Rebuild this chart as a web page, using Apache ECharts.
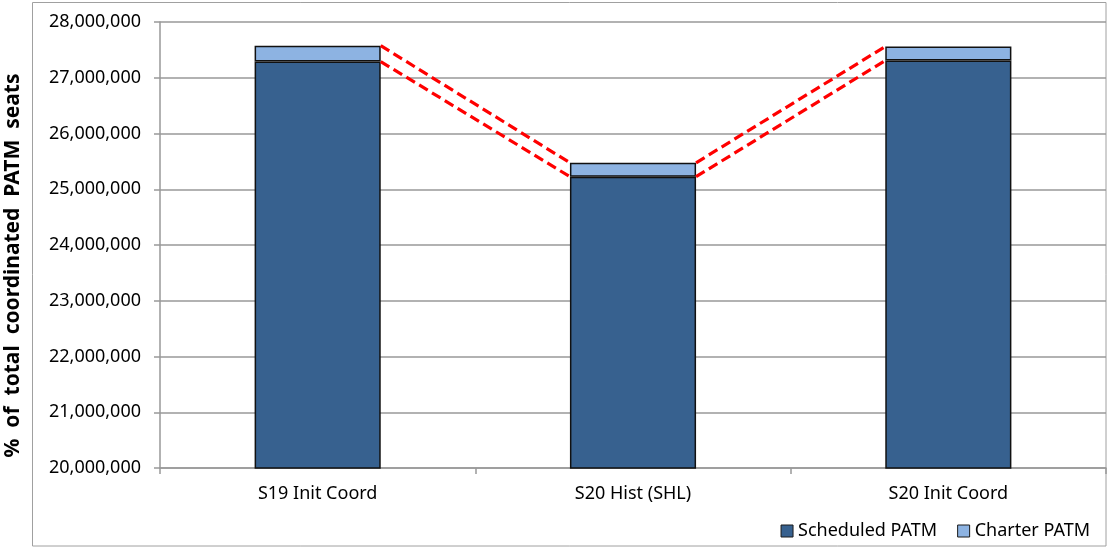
<!DOCTYPE html>
<html>
<head>
<meta charset="utf-8">
<script src="https://cdn.jsdelivr.net/npm/echarts@6/dist/echarts.min.js"></script>
<style>
html,body{margin:0;padding:0;background:#fff;}
#chart{width:1107px;height:547px;}
</style>
</head>
<body>
<div id="chart"></div>
<script>
var categories = ['S19 Init Coord', 'S20 Hist (SHL)', 'S20 Init Coord'];
var scheduled = [27290000, 25225000, 27310000];
var charter = [285000, 250000, 250000];
var yTicks = { min: 20000000, max: 28000000, interval: 1000000 };
var seriesNames = ['Scheduled PATM', 'Charter PATM'];
var axisTitle = '%  of  total  coordinated  PATM  seats';

var FONT = 'Noto Sans';
var totals = scheduled.map(function (v, i) { return v + charter[i]; });
var halfBar = 0.2;

var connectors = [];
for (var i = 0; i < categories.length - 1; i++) {
  [scheduled, totals].forEach(function (arr) {
    connectors.push({
      type: 'line',
      xAxisIndex: 1,
      yAxisIndex: 0,
      symbol: 'none',
      silent: true,
      z: 5,
      lineStyle: { color: '#ff0000', width: 3.2, type: [10, 5] },
      data: [[i + halfBar, arr[i]], [i + 1 - halfBar, arr[i + 1]]]
    });
  });
}

var chart = echarts.init(document.getElementById('chart'));
chart.setOption({
  animation: false,
  backgroundColor: '#ffffff',
  graphic: [{
    type: 'rect',
    shape: { x: 32.5, y: 2.5, width: 1073.5, height: 543.5 },
    style: { fill: 'none', stroke: '#a0a0a0', lineWidth: 1 },
    silent: true,
    z: -1
  }],
  grid: { left: 160, right: 1, top: 22, bottom: 79, containLabel: false, outerBoundsMode: 'none' },
  legend: {
    data: seriesNames,
    right: 12,
    top: 517,
    itemWidth: 12,
    itemHeight: 12,
    itemGap: 20,
    icon: 'rect',
    textStyle: { fontFamily: FONT, fontSize: 18, color: '#000' },
    itemStyle: { borderColor: '#1a1a1a', borderWidth: 1 }
  },
  xAxis: [{
    type: 'category',
    data: categories,
    axisLine: { lineStyle: { color: '#999999', width: 1.5 } },
    axisTick: { show: true, length: 6, lineStyle: { color: '#999999', width: 1.5 } },
    axisLabel: { fontFamily: FONT, fontSize: 18, color: '#000', margin: 17 }
  }, {
    type: 'value',
    min: -0.5,
    max: 2.5,
    show: false
  }],
  yAxis: [{
    type: 'value',
    min: yTicks.min,
    max: yTicks.max,
    interval: yTicks.interval,
    name: axisTitle,
    nameLocation: 'middle',
    nameGap: 136,
    nameTextStyle: { fontFamily: FONT, fontSize: 21, fontWeight: 'bold', color: '#000', padding: [0, 41, 0, 0] },
    axisLine: { show: true, onZero: false, lineStyle: { color: '#999999', width: 1.5 } },
    axisTick: { show: true, length: 6, lineStyle: { color: '#999999', width: 1.5 } },
    splitLine: { show: true, lineStyle: { color: '#999999', width: 1.5 } },
    axisLabel: {
      fontFamily: FONT, fontSize: 18, color: '#000', margin: 19,
      formatter: function (v) { return Number(v).toLocaleString('en-US'); }
    }
  }],
  series: [{
    name: seriesNames[0],
    type: 'bar',
    stack: 'total',
    barWidth: '40%',
    data: scheduled,
    itemStyle: { color: '#37618f', borderColor: '#111111', borderWidth: 1.5 }
  }, {
    name: seriesNames[1],
    type: 'bar',
    stack: 'total',
    barWidth: '40%',
    data: charter,
    itemStyle: { color: '#8db3e2', borderColor: '#111111', borderWidth: 1.5 }
  }].concat(connectors)
});
</script>
</body>
</html>
